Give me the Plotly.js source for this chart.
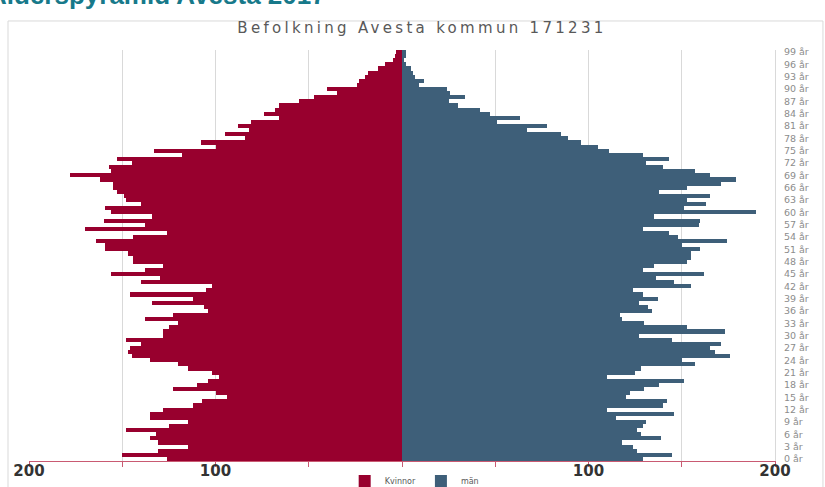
<!DOCTYPE html>
<html>
<head>
<meta charset="utf-8">
<script src="https://cdn.plot.ly/plotly-3.0.1.min.js"></script>
<style>
html,body{margin:0;padding:0;background:#fff;overflow:hidden}
#chart{width:825px;height:487px}
.gtitle{letter-spacing:3.3px}
</style>
</head>
<body>
<div id="chart"></div>
<script>
// Ages (categories) 0..99
const ages = [0,1,2,3,4,5,6,7,8,9,10,11,12,13,14,15,16,17,18,19,
  20,21,22,23,24,25,26,27,28,29,30,31,32,33,34,35,36,37,38,39,
  40,41,42,43,44,45,46,47,48,49,50,51,52,53,54,55,56,57,58,59,
  60,61,62,63,64,65,66,67,68,69,70,71,72,73,74,75,76,77,78,79,
  80,81,82,83,84,85,86,87,88,89,90,91,92,93,94,95,96,97,98,99];

// Kvinnor (women), age 0..99
const kvinnor = [126,150,131,115,131,135,132,148,125,115,
  135,135,128,112,107,94,100,123,110,104,
  98,102,115,120,135,145,147,146,140,148,
  128,128,125,120,138,123,104,106,134,112,
  146,105,102,140,130,156,138,128,144,144,
  147,159,159,164,144,126,170,138,160,134,
  156,159,140,148,149,153,155,155,162,178,
  156,157,145,153,118,133,100,108,84,95,
  82,88,81,66,74,68,66,55,47,35,
  40,24,23,20,18,13,9,5,4,3];

// män (men), age 0..99
const man = [129,145,126,124,118,139,128,126,129,131,
  115,146,110,140,142,120,122,130,138,151,
  110,125,128,157,150,176,168,165,171,145,
  127,173,153,130,118,117,134,132,127,137,
  129,124,155,146,136,162,129,135,153,155,
  155,160,150,174,148,143,129,159,160,135,
  190,151,163,153,165,138,153,171,179,165,
  157,140,131,143,129,111,105,96,89,85,
  67,78,51,63,47,42,30,25,34,26,
  24,9,12,7,6,5,2,1,2,2];

// y tick labels (every third age)
const ageTickVals = [0,3,6,9,12,15,18,21,24,27,30,33,36,39,42,45,48,51,54,57,60,63,66,69,72,75,78,81,84,87,90,93,96,99];
const ageTickText = ["0 år","3 år","6 år","9 år","12 år","15 år","18 år","21 år","24 år","27 år","30 år","33 år","36 år","39 år","42 år","45 år","48 år","51 år","54 år","57 år","60 år","63 år","66 år","69 år","72 år","75 år","78 år","81 år","84 år","87 år","90 år","93 år","96 år","99 år"];

// x tick labels
const xTickVals = [-200,-150,-100,-50,0,50,100,150,200];
const xTickText = ["200","","100","","","","100","","200"];

const seriesNames = ["Kvinnor","män"];
const chartTitle = "Befolkning Avesta kommun 171231";
const pageTitle = "Ålderspyramid Avesta 2017";

const traces = [
  {type:'bar', orientation:'h', name:seriesNames[0], y:ages, x:kvinnor.map(v => -v),
   marker:{color:'#98002E', line:{width:0}}, hoverinfo:'skip'},
  {type:'bar', orientation:'h', name:seriesNames[1], y:ages, x:man,
   marker:{color:'#3E5F79', line:{width:0}}, hoverinfo:'skip'}
];

const layout = {
  width:825, height:487,
  margin:{l:29, r:50, t:50, b:26, autoexpand:false},
  paper_bgcolor:'#ffffff', plot_bgcolor:'#ffffff',
  font:{family:'DejaVu Sans, sans-serif', color:'#595959'},
  title:{text:chartTitle, font:{family:'DejaVu Sans, sans-serif', size:15, color:'#595959'},
    xref:'container', x:0.5115, xanchor:'center', yref:'container', y:0.9425, yanchor:'middle'},
  barmode:'overlay', bargap:0,
  showlegend:true,
  xaxis:{range:[-200,200], tickmode:'array', tickvals:xTickVals, ticktext:xTickText,
    showgrid:true, gridcolor:'#d9d9d9', gridwidth:1, zeroline:false,
    showline:true, linecolor:'#c95a72', linewidth:1,
    ticks:'outside', ticklen:5, tickcolor:'#c95a72', tickwidth:1,
    ticklabelstandoff:-9,
    tickfont:{family:'DejaVu Sans, sans-serif', size:15, color:'#333333', weight:'bold'},
    fixedrange:true},
  yaxis:{range:[-0.5,99.5], side:'right', tickmode:'array', tickvals:ageTickVals, ticktext:ageTickText,
    showgrid:false, zeroline:false, showline:true, linecolor:'#d9d9d9', linewidth:1,
    ticks:'', ticklabelstandoff:6,
    tickfont:{family:'DejaVu Sans, sans-serif', size:9.5, color:'#8c8c8c'},
    fixedrange:true},
  legend:{orientation:'h', x:0.517, xanchor:'center', y:-0.0487, yanchor:'middle',
    font:{family:'DejaVu Sans, sans-serif', size:8, color:'#595959'}, itemwidth:30,
    traceorder:'normal', bgcolor:'rgba(0,0,0,0)'},
  shapes:[
    {type:'rect', xref:'paper', yref:'paper', x0:-0.02815, x1:1.0643, y0:-0.0706, y1:1.0706,
     line:{color:'#d9d9d9', width:1}, fillcolor:'rgba(0,0,0,0)', layer:'below'}
  ],
  annotations:[
    {text:pageTitle, xref:'paper', yref:'paper', x:-0.0576, xanchor:'left', y:1.1338, yanchor:'middle',
     showarrow:false, font:{family:'Liberation Sans, sans-serif', size:26, color:'#17798A', weight:'bold'}}
  ]
};

Plotly.newPlot('chart', traces, layout, {displayModeBar:false, staticPlot:true});
</script>
</body>
</html>
